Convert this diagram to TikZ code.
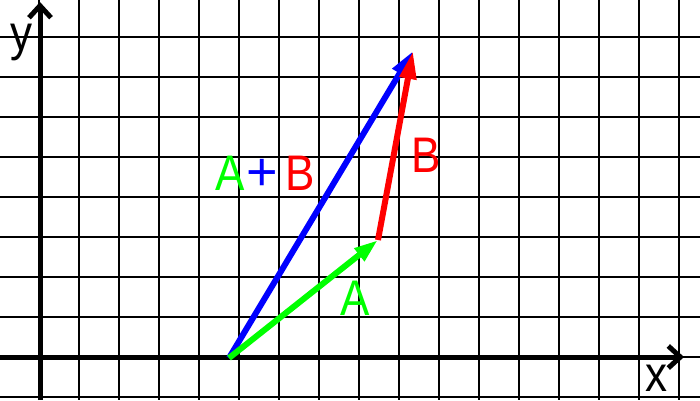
\documentclass[tikz,border=0pt]{standalone}
\usepackage{fontspec}
\setmainfont{Liberation Sans}
\newfontfamily\lblfont[FakeStretch=0.88]{Liberation Sans}
\usetikzlibrary{arrows.meta}
\definecolor{pg}{RGB}{0,255,0}
\definecolor{pb}{RGB}{0,0,255}
\definecolor{pr}{RGB}{255,0,0}
\tikzset{
  gridline/.style={black, line width=1.3pt},
  axisline/.style={black, line width=5pt, -{Straight Barb[length=12pt,width=22pt]}},
  vec/.style={line width=6pt},
  lbl/.style={inner sep=0pt, anchor=base west, font=\lblfont\fontsize{50}{54}\selectfont},
}
\begin{document}
\begin{tikzpicture}[x=1pt,y=-1pt]
\useasboundingbox (0,0) rectangle (700,400);
\fill[white] (0,0) rectangle (700,400);
% grid
\foreach \k in {0,...,16} {
  \draw[gridline] ({39+40*\k},0) -- ({39+40*\k},400);
}
\foreach \k in {1,...,10} {
  \draw[gridline] (0,{-3+40*\k}) -- (700,{-3+40*\k});
}
% axes
\coordinate (xs) at (0,357);
\coordinate (xe) at (684,357);
\coordinate (ys) at (40,400);
\coordinate (ye) at (40,2);
\draw[axisline] (xs) -- (xe);
\draw[axisline] (ys) -- (ye);
% vectors
\coordinate (O) at (229,358);
\coordinate (P) at (378,240);
\coordinate (Q) at (413,51);
\draw[vec, pb, -{Triangle[length=26pt,width=16pt]}] (O) -- (Q);
\draw[vec, pg, -{Triangle[length=24pt,width=15pt]}] (O) -- (P);
\draw[vec, pr, -{Triangle[length=28pt,width=16pt]}] (P) -- (Q);
% labels
\node[lbl] (ly) at (10,50) {y};
\node[lbl] (lx) at (645,391) {x};
\node[lbl] (lab) at (215,190) {\textcolor{pg}{A}\hspace{2pt}{\setmainfont{Liberation Sans}\fontsize{54}{56}\selectfont\textcolor{pb}{+}}\hspace{7pt}\textcolor{pr}{B}};
\node[lbl, text=pr] (lb) at (411,172) {B};
\node[lbl, text=pg] (la) at (340,315) {A};
\end{tikzpicture}
\end{document}
